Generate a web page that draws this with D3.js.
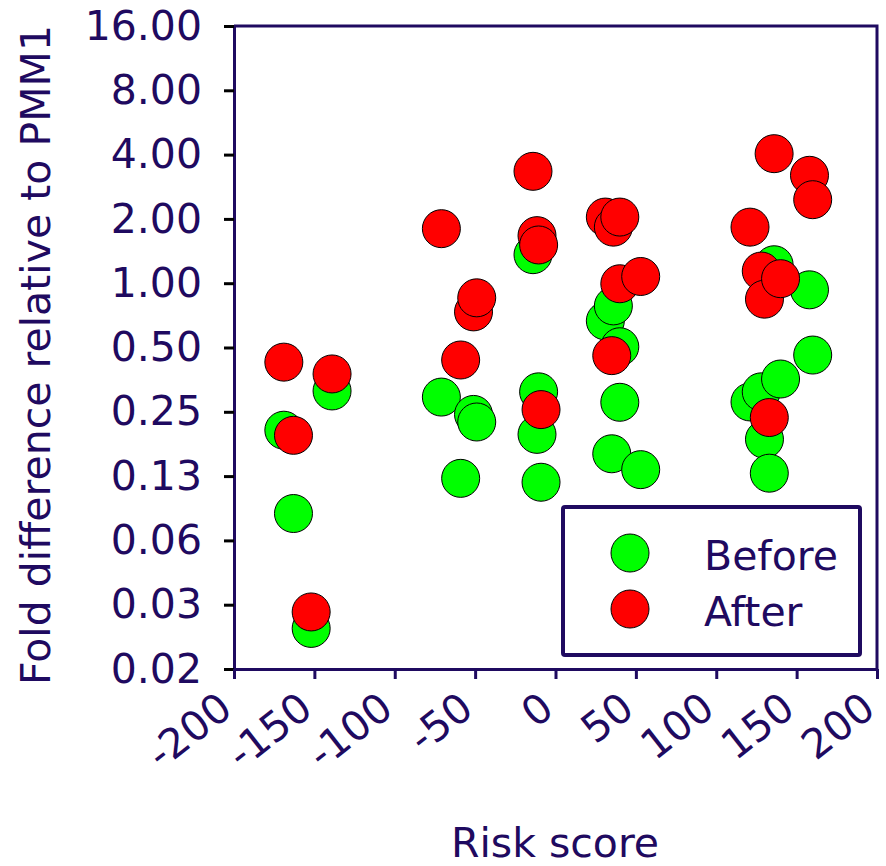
<!DOCTYPE html>
<html>
<head>
<meta charset="utf-8">
<script src="https://cdn.jsdelivr.net/npm/d3@7"></script>
<style>
  body { margin: 0; background: #fff; }
  svg text { font-family: "DejaVu Sans", Verdana, sans-serif; }
</style>
</head>
<body>
<div id="chart"></div>
<script>
// patient risk scores, with fold difference before and after
const riskScore = [-169, -163, -152, -139, -71, -59, -51, -49, -14, -11.5, -10.5, -9,
                   31, 35, 36, 40, 40, 53, 121, 128, 130, 133, 136, 140, 158, 160];
const before = [0.205, 0.0835, 0.0242, 0.313, 0.293, 0.122, 0.243, 0.224, 1.36, 0.196, 0.31, 0.117,
                0.666, 0.159, 0.783, 0.504, 0.277, 0.134, 0.278, 0.31, 0.186, 0.129, 1.22, 0.356, 0.931, 0.461];
const after = [0.427, 0.194, 0.0289, 0.376, 1.80, 0.437, 0.734, 0.854, 3.34, 1.67, 1.51, 0.256,
               2.04, 0.458, 1.83, 2.04, 0.994, 1.075, 1.83, 1.14, 0.842, 0.235, 4.04, 1.05, 3.2, 2.46];

const yTicks = [16, 8, 4, 2, 1, 0.5, 0.25, 0.125, 0.0625, 0.03125, 0.015625];
const yTickLabels = ["16.00", "8.00", "4.00", "2.00", "1.00", "0.50", "0.25", "0.13", "0.06", "0.03", "0.02"];
const xTicks = [-200, -150, -100, -50, 0, 50, 100, 150, 200];

const seriesNames = ["Before", "After"];
const seriesColors = ["#00ff00", "#ff0000"];

const navy = "#1f0a60";
const width = 886, height = 866;
const plotLeft = 234, plotTop = 26, plotRight = 877, plotBottom = 669;

const svg = d3.select("#chart").append("svg")
    .attr("width", width)
    .attr("height", height);

const x = d3.scaleLinear().domain([-200, 200]).range([plotLeft, plotRight]);
const y = d3.scaleLog().base(2).domain([0.015625, 16]).range([plotBottom, plotTop]);

// frame top and right
svg.append("path")
    .attr("d", `M${plotLeft},${plotTop}H${plotRight}V${plotBottom}`)
    .attr("fill", "none")
    .attr("stroke", navy)
    .attr("stroke-width", 3);

// y axis
const yAxis = svg.append("g")
    .attr("transform", `translate(${plotLeft},0)`)
    .call(d3.axisLeft(y).tickValues(yTicks).tickFormat((d, i) => yTickLabels[i]).tickSize(10).tickPadding(22));
yAxis.select(".domain").attr("stroke", navy).attr("stroke-width", 3);
yAxis.selectAll(".tick line").attr("stroke", "#000").attr("stroke-width", 3);
yAxis.selectAll(".tick text")
    .attr("fill", navy)
    .attr("font-size", "41px")
    .attr("font-family", "DejaVu Sans, Verdana, sans-serif");

// x axis (plain hyphen for negatives, like the original)
const xAxis = svg.append("g")
    .attr("transform", `translate(0,${plotBottom})`)
    .call(d3.axisBottom(x).tickValues(xTicks).tickFormat(d => String(d)).tickSize(10).tickSizeOuter(0));
xAxis.select(".domain").attr("stroke", navy).attr("stroke-width", 3);
xAxis.selectAll(".tick line").attr("stroke", navy).attr("stroke-width", 3);
xAxis.selectAll(".tick text")
    .attr("fill", navy)
    .attr("font-size", "41px")
    .attr("font-family", "DejaVu Sans, Verdana, sans-serif")
    .attr("text-anchor", "end")
    .attr("y", 0)
    .attr("dy", 0)
    .attr("transform", "translate(0,44) rotate(-38)");

// points: before first, after on top
const series = [before, after];
series.forEach((vals, s) => {
    svg.append("g").selectAll("circle")
        .data(vals)
        .enter()
        .append("circle")
        .attr("cx", (d, i) => x(riskScore[i]))
        .attr("cy", d => y(d))
        .attr("r", 19)
        .attr("fill", seriesColors[s])
        .attr("stroke", "#000")
        .attr("stroke-width", 1);
});

// legend
const legend = svg.append("g");
legend.append("rect")
    .attr("x", 563).attr("y", 507)
    .attr("width", 297).attr("height", 148)
    .attr("rx", 2)
    .attr("fill", "#fff")
    .attr("stroke", navy)
    .attr("stroke-width", 4);
seriesNames.forEach((name, i) => {
    legend.append("circle")
        .attr("cx", 630).attr("cy", 553 + i * 56)
        .attr("r", 19)
        .attr("fill", seriesColors[i])
        .attr("stroke", "#000")
        .attr("stroke-width", 1);
    legend.append("text")
        .attr("x", 704).attr("y", 570 + i * 56)
        .attr("fill", navy)
        .attr("font-size", "41px")
        .text(name);
});

// axis titles
svg.append("text")
    .attr("x", 555).attr("y", 857)
    .attr("text-anchor", "middle")
    .attr("fill", navy)
    .attr("font-size", "41px")
    .text("Risk score");

svg.append("text")
    .attr("transform", "translate(50,355) rotate(-90)")
    .attr("text-anchor", "middle")
    .attr("fill", navy)
    .attr("font-size", "41px")
    .text("Fold difference relative to PMM1");
</script>
</body>
</html>
